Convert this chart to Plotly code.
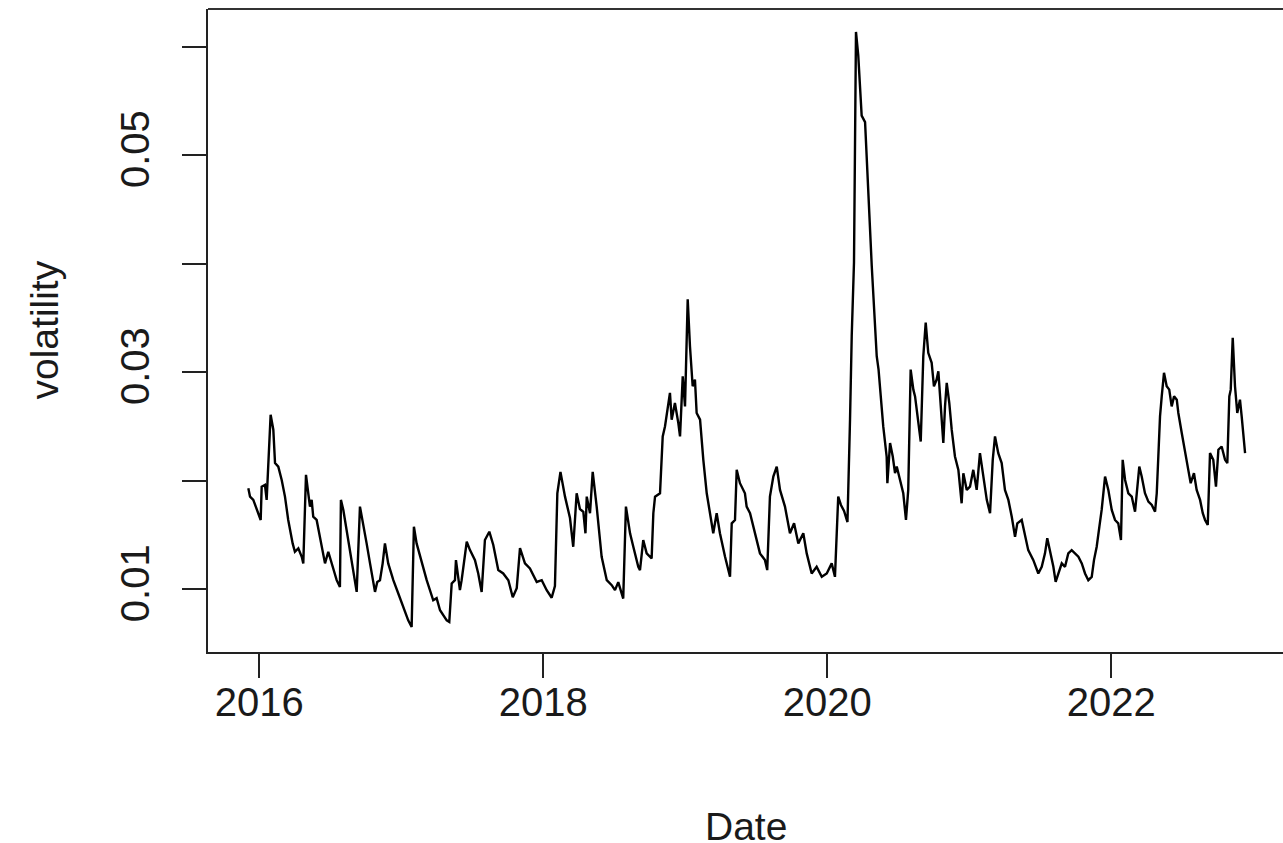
import plotly.graph_objects as go

# Time index in decimal years and the corresponding volatility readings
t_years = [
    2015.923, 2015.935, 2015.958, 2015.982, 2016.010, 2016.017, 2016.040, 2016.052, 2016.063, 2016.080,
    2016.099, 2016.111, 2016.134, 2016.158, 2016.181, 2016.204, 2016.235, 2016.251, 2016.275, 2016.299,
    2016.310, 2016.329, 2016.345, 2016.357, 2016.369, 2016.380, 2016.404, 2016.439, 2016.463, 2016.486,
    2016.510, 2016.545, 2016.568, 2016.575, 2016.592, 2016.615, 2016.651, 2016.686, 2016.709, 2016.732,
    2016.756, 2016.780, 2016.815, 2016.831, 2016.850, 2016.869, 2016.885, 2016.908, 2016.944, 2016.979,
    2017.014, 2017.049, 2017.073, 2017.089, 2017.108, 2017.144, 2017.179, 2017.225, 2017.249, 2017.273,
    2017.320, 2017.338, 2017.355, 2017.378, 2017.385, 2017.413, 2017.425, 2017.461, 2017.484, 2017.519,
    2017.542, 2017.566, 2017.589, 2017.620, 2017.648, 2017.683, 2017.718, 2017.754, 2017.785, 2017.813,
    2017.836, 2017.871, 2017.906, 2017.954, 2017.989, 2018.024, 2018.059, 2018.082, 2018.099, 2018.121,
    2018.153, 2018.188, 2018.211, 2018.235, 2018.258, 2018.282, 2018.297, 2018.306, 2018.329, 2018.348,
    2018.376, 2018.411, 2018.447, 2018.482, 2018.505, 2018.528, 2018.563, 2018.582, 2018.611, 2018.634,
    2018.669, 2018.681, 2018.704, 2018.728, 2018.763, 2018.775, 2018.787, 2018.822, 2018.841, 2018.857,
    2018.869, 2018.892, 2018.904, 2018.927, 2018.951, 2018.963, 2018.982, 2018.998, 2019.017, 2019.033,
    2019.052, 2019.068, 2019.080, 2019.104, 2019.127, 2019.151, 2019.174, 2019.197, 2019.221, 2019.244,
    2019.280, 2019.315, 2019.327, 2019.350, 2019.362, 2019.385, 2019.420, 2019.432, 2019.456, 2019.491,
    2019.526, 2019.561, 2019.577, 2019.596, 2019.620, 2019.644, 2019.667, 2019.702, 2019.737, 2019.766,
    2019.796, 2019.831, 2019.855, 2019.890, 2019.925, 2019.961, 2019.996, 2020.031, 2020.054, 2020.077,
    2020.096, 2020.118, 2020.142, 2020.160, 2020.172, 2020.188, 2020.202, 2020.218, 2020.230, 2020.242,
    2020.266, 2020.273, 2020.282, 2020.313, 2020.348, 2020.361, 2020.394, 2020.418, 2020.423, 2020.442,
    2020.461, 2020.477, 2020.489, 2020.512, 2020.535, 2020.554, 2020.570, 2020.587, 2020.606, 2020.618,
    2020.641, 2020.658, 2020.676, 2020.693, 2020.711, 2020.735, 2020.751, 2020.770, 2020.782, 2020.794,
    2020.817, 2020.829, 2020.841, 2020.859, 2020.876, 2020.899, 2020.923, 2020.946, 2020.958, 2020.982,
    2021.005, 2021.028, 2021.052, 2021.075, 2021.099, 2021.123, 2021.146, 2021.165, 2021.181, 2021.204,
    2021.228, 2021.251, 2021.275, 2021.299, 2021.322, 2021.338, 2021.369, 2021.392, 2021.415, 2021.451,
    2021.486, 2021.510, 2021.533, 2021.549, 2021.568, 2021.592, 2021.608, 2021.627, 2021.651, 2021.674,
    2021.697, 2021.721, 2021.744, 2021.768, 2021.792, 2021.815, 2021.838, 2021.862, 2021.878, 2021.897,
    2021.916, 2021.932, 2021.956, 2021.979, 2022.003, 2022.026, 2022.049, 2022.068, 2022.080, 2022.097,
    2022.120, 2022.144, 2022.167, 2022.197, 2022.214, 2022.237, 2022.261, 2022.285, 2022.308, 2022.320,
    2022.331, 2022.343, 2022.355, 2022.371, 2022.390, 2022.408, 2022.425, 2022.442, 2022.461, 2022.472,
    2022.496, 2022.519, 2022.542, 2022.559, 2022.582, 2022.601, 2022.625, 2022.644, 2022.660, 2022.679,
    2022.695, 2022.718, 2022.737, 2022.754, 2022.777, 2022.801, 2022.817, 2022.831, 2022.841, 2022.855,
    2022.871, 2022.887, 2022.906, 2022.918, 2022.942,
]

volatility = [
    0.01931, 0.01853, 0.01823, 0.01730, 0.01638, 0.01945, 0.01961, 0.01823, 0.02130, 0.02608,
    0.02470, 0.02162, 0.02130, 0.02007, 0.01853, 0.01638, 0.01422, 0.01345, 0.01376, 0.01299,
    0.01238, 0.02054, 0.01884, 0.01761, 0.01823, 0.01668, 0.01638, 0.01391, 0.01238, 0.01345,
    0.01238, 0.01083, 0.01021, 0.01823, 0.01730, 0.01545, 0.01238, 0.00975, 0.01761, 0.01576,
    0.01422, 0.01238, 0.00975, 0.01067, 0.01083, 0.01238, 0.01422, 0.01238, 0.01083, 0.00960,
    0.00836, 0.00713, 0.00652, 0.01576, 0.01422, 0.01238, 0.01083, 0.00898, 0.00917, 0.00806,
    0.00713, 0.00698, 0.01053, 0.01083, 0.01268, 0.00991, 0.01083, 0.01437, 0.01360, 0.01268,
    0.01145, 0.00975, 0.01453, 0.01530, 0.01407, 0.01176, 0.01145, 0.01083, 0.00926, 0.01009,
    0.01379, 0.01238, 0.01191, 0.01067, 0.01083, 0.00991, 0.00921, 0.01028, 0.01884, 0.02081,
    0.01853, 0.01656, 0.01391, 0.01884, 0.01739, 0.01712, 0.01515, 0.01853, 0.01700, 0.02081,
    0.01761, 0.01299, 0.01083, 0.01037, 0.00991, 0.01065, 0.00914, 0.01761, 0.01515, 0.01391,
    0.01206, 0.01176, 0.01453, 0.01330, 0.01284, 0.01700, 0.01853, 0.01884, 0.02408, 0.02500,
    0.02624, 0.02809, 0.02562, 0.02716, 0.02531, 0.02408, 0.02962, 0.02685, 0.03671, 0.03239,
    0.02870, 0.02932, 0.02624, 0.02562, 0.02192, 0.01884, 0.01700, 0.01515, 0.01700, 0.01515,
    0.01299, 0.01114, 0.01607, 0.01638, 0.02100, 0.01977, 0.01884, 0.01761, 0.01700, 0.01515,
    0.01330, 0.01268, 0.01176, 0.01853, 0.02038, 0.02130, 0.01915, 0.01761, 0.01515, 0.01607,
    0.01422, 0.01515, 0.01330, 0.01145, 0.01206, 0.01114, 0.01145, 0.01238, 0.01114, 0.01853,
    0.01776, 0.01721, 0.01619, 0.02562, 0.03332, 0.04010, 0.06136, 0.05920, 0.05642, 0.05365,
    0.05304, 0.05088, 0.04780, 0.03979, 0.03147, 0.03024, 0.02500, 0.02223, 0.01977, 0.02347,
    0.02223, 0.02069, 0.02130, 0.02007, 0.01884, 0.01638, 0.01915, 0.03024, 0.02839, 0.02777,
    0.02562, 0.02361, 0.03147, 0.03456, 0.03178, 0.03086, 0.02870, 0.02932, 0.03008, 0.02747,
    0.02347, 0.02685, 0.02901, 0.02716, 0.02470, 0.02223, 0.02100, 0.01792, 0.02069, 0.01915,
    0.01945, 0.02100, 0.01915, 0.02254, 0.02038, 0.01823, 0.01700, 0.02192, 0.02408, 0.02254,
    0.02162, 0.01915, 0.01823, 0.01668, 0.01483, 0.01607, 0.01638, 0.01483, 0.01360, 0.01268,
    0.01145, 0.01206, 0.01330, 0.01469, 0.01360, 0.01206, 0.01067, 0.01145, 0.01238, 0.01206,
    0.01330, 0.01360, 0.01330, 0.01299, 0.01238, 0.01145, 0.01083, 0.01114, 0.01268, 0.01391,
    0.01576, 0.01730, 0.02038, 0.01915, 0.01730, 0.01638, 0.01607, 0.01453, 0.02192, 0.02007,
    0.01884, 0.01853, 0.01714, 0.02130, 0.02038, 0.01884, 0.01807, 0.01776, 0.01714, 0.01884,
    0.02223, 0.02592, 0.02777, 0.02994, 0.02870, 0.02839, 0.02685, 0.02777, 0.02747, 0.02624,
    0.02439, 0.02254, 0.02100, 0.01977, 0.02069, 0.01915, 0.01823, 0.01700, 0.01638, 0.01592,
    0.02254, 0.02192, 0.01945, 0.02285, 0.02315, 0.02192, 0.02162, 0.02777, 0.02839, 0.03317,
    0.02870, 0.02624, 0.02747, 0.02592, 0.02254,
]

x_ticks = [2016, 2018, 2020, 2022]
y_ticks = [0.01, 0.02, 0.03, 0.04, 0.05, 0.06]
y_tick_text = ["0.01", "", "0.03", "", "0.05", ""]

x_range = [2015.639, 2023.209]
y_range = [0.004212, 0.06347]

FONT = "Liberation Sans, Arial, Helvetica, sans-serif"
INK = "#1a1a1a"

fig = go.Figure()
fig.add_trace(go.Scatter(
    x=t_years, y=volatility, mode="lines",
    line=dict(color="black", width=2.4),
    showlegend=False, hoverinfo="skip",
))

fig.update_layout(
    width=1283, height=843,
    margin=dict(l=208, r=0, t=9, b=191),
    paper_bgcolor="white", plot_bgcolor="white",
    font=dict(family=FONT, size=39, color=INK),
    xaxis=dict(
        range=x_range, tickmode="array", tickvals=x_ticks,
        ticktext=[str(v) for v in x_ticks],
        ticks="outside", ticklen=24, tickwidth=2, tickcolor="#222",
        showline=True, linecolor="#222", linewidth=2,
        showgrid=False, zeroline=False,
        tickfont=dict(family=FONT, size=40, color=INK),
        ticklabelstandoff=-10,
    ),
    yaxis=dict(
        range=y_range, tickmode="array", tickvals=y_ticks, ticktext=y_tick_text,
        ticks="outside", ticklen=24, tickwidth=2, tickcolor="#222",
        showline=True, linecolor="#222", linewidth=2,
        showgrid=False, zeroline=False, tickangle=-90,
        tickfont=dict(family=FONT, size=40, color=INK),
        ticklabelstandoff=17,
    ),
    shapes=[dict(type="line", xref="paper", yref="paper", x0=0, x1=1.01, y0=1, y1=1,
                 line=dict(color="#333", width=2))],
    annotations=[
        dict(text="Date", xref="paper", yref="paper", x=0.5, y=0, yshift=-174,
             showarrow=False, xanchor="center", yanchor="middle",
             font=dict(family=FONT, size=39, color=INK)),
        dict(text="volatility", xref="paper", yref="paper", x=0, xshift=-164, y=0.5,
             showarrow=False, textangle=-90, xanchor="center", yanchor="middle",
             font=dict(family=FONT, size=39, color=INK)),
    ],
)

fig.write_html("out.html")
